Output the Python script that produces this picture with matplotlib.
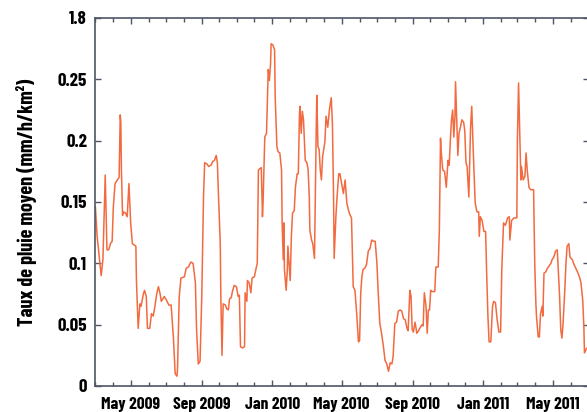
import datetime as dt
import matplotlib
matplotlib.use("Agg")
import matplotlib.pyplot as plt
import matplotlib.dates as mdates

# daily mean rain rate (days since start_date)
start_date = dt.date(2009, 3, 1)
days = [0, 3, 10, 13, 17, 20, 23, 26, 29, 31, 34, 38, 41, 43, 44, 45, 47, 48, 52, 55,
        58, 61, 64, 67, 70, 71, 74, 77, 79, 83, 85, 88, 90, 94, 97, 100, 103, 106, 109, 112,
        114, 119, 123, 127, 131, 135, 138, 141, 142, 145, 148, 154, 157, 161, 165, 169, 173, 175, 178, 181,
        184, 187, 189, 193, 196, 200, 203, 206, 209, 211, 213, 216, 217, 219, 221, 225, 227, 230, 232, 235,
        237, 240, 244, 247, 249, 251, 255, 258, 259, 262, 263, 266, 269, 271, 275, 278, 280, 282, 284, 287,
        289, 290, 293, 296, 299, 301, 303, 304, 307, 310, 311, 314, 316, 319, 322, 323, 325, 326, 327, 330,
        332, 333, 335, 337, 339, 341, 344, 346, 349, 351, 353, 354, 356, 358, 360, 363, 366, 368, 370, 371,
        374, 376, 379, 382, 383, 385, 387, 389, 391, 393, 397, 399, 402, 405, 408, 410, 412, 413, 416, 418,
        421, 423, 426, 429, 432, 435, 438, 440, 443, 446, 449, 452, 455, 457, 459, 461, 463, 466, 469, 472,
        475, 478, 481, 484, 487, 489, 492, 495, 498, 501, 504, 507, 510, 513, 515, 518, 521, 524, 527, 530,
        533, 536, 539, 541, 544, 546, 548, 550, 553, 556, 559, 561, 565, 567, 569, 572, 574, 576, 578, 580,
        582, 587, 589, 593, 595, 597, 598, 601, 604, 607, 610, 612, 614, 616, 618, 620, 622, 623, 625, 627,
        629, 631, 634, 637, 639, 641, 643, 646, 649, 651, 654, 657, 660, 663, 664, 666, 669, 672, 675, 677,
        679, 681, 684, 687, 689, 692, 695, 698, 701, 703, 706, 709, 710, 713, 716, 717, 720, 724, 729, 730,
        732, 734, 736, 737, 740, 743, 745, 747, 750, 753, 758, 760, 762, 763, 766, 768, 770, 773, 774, 776,
        779, 782, 788, 790, 793, 796, 799, 801, 803, 805, 807, 809, 812, 814, 816, 819, 821, 825, 828, 834,
        838, 840, 843, 845, 846, 849, 852]
rain = [0.146, 0.122, 0.090, 0.103, 0.172, 0.111, 0.111, 0.116, 0.118, 0.146, 0.165, 0.168, 0.170, 0.221, 0.215, 0.176, 0.139, 0.142, 0.141, 0.138,
        0.165, 0.133, 0.116, 0.115, 0.114, 0.086, 0.047, 0.067, 0.065, 0.075, 0.078, 0.073, 0.047, 0.047, 0.059, 0.057, 0.065, 0.075, 0.081, 0.075,
        0.069, 0.073, 0.070, 0.066, 0.066, 0.039, 0.010, 0.008, 0.013, 0.073, 0.088, 0.089, 0.096, 0.097, 0.101, 0.100, 0.084, 0.046, 0.018, 0.020,
        0.073, 0.154, 0.182, 0.181, 0.179, 0.180, 0.183, 0.184, 0.188, 0.182, 0.154, 0.116, 0.073, 0.025, 0.067, 0.066, 0.063, 0.062, 0.071, 0.072,
        0.077, 0.082, 0.081, 0.073, 0.074, 0.032, 0.031, 0.032, 0.076, 0.069, 0.086, 0.084, 0.076, 0.088, 0.089, 0.096, 0.100, 0.176, 0.177, 0.178,
        0.138, 0.149, 0.203, 0.206, 0.258, 0.249, 0.263, 0.279, 0.278, 0.274, 0.236, 0.195, 0.191, 0.190, 0.176, 0.133, 0.103, 0.133, 0.095, 0.078,
        0.095, 0.114, 0.100, 0.086, 0.122, 0.141, 0.143, 0.162, 0.173, 0.173, 0.222, 0.228, 0.206, 0.224, 0.217, 0.184, 0.182, 0.176, 0.154, 0.127,
        0.119, 0.116, 0.104, 0.209, 0.237, 0.195, 0.193, 0.176, 0.168, 0.187, 0.199, 0.220, 0.211, 0.226, 0.235, 0.214, 0.154, 0.104, 0.138, 0.154,
        0.173, 0.173, 0.165, 0.157, 0.168, 0.149, 0.143, 0.140, 0.137, 0.081, 0.078, 0.059, 0.036, 0.037, 0.076, 0.089, 0.095, 0.096, 0.099, 0.110,
        0.112, 0.119, 0.118, 0.118, 0.100, 0.078, 0.051, 0.043, 0.033, 0.021, 0.018, 0.012, 0.019, 0.018, 0.024, 0.051, 0.052, 0.061, 0.062, 0.061,
        0.055, 0.054, 0.047, 0.045, 0.078, 0.073, 0.046, 0.044, 0.052, 0.043, 0.045, 0.047, 0.050, 0.049, 0.076, 0.065, 0.043, 0.062, 0.062, 0.078,
        0.077, 0.077, 0.097, 0.097, 0.127, 0.202, 0.192, 0.176, 0.175, 0.162, 0.184, 0.180, 0.200, 0.217, 0.225, 0.203, 0.220, 0.248, 0.218, 0.188,
        0.206, 0.210, 0.217, 0.215, 0.208, 0.182, 0.179, 0.154, 0.211, 0.228, 0.187, 0.149, 0.142, 0.142, 0.122, 0.138, 0.135, 0.126, 0.126, 0.089,
        0.057, 0.036, 0.036, 0.065, 0.069, 0.068, 0.054, 0.044, 0.044, 0.095, 0.133, 0.131, 0.132, 0.137, 0.138, 0.119, 0.135, 0.137, 0.137, 0.201,
        0.247, 0.209, 0.168, 0.179, 0.168, 0.171, 0.190, 0.176, 0.162, 0.160, 0.160, 0.100, 0.067, 0.057, 0.040, 0.040, 0.059, 0.065, 0.057, 0.092,
        0.093, 0.096, 0.100, 0.103, 0.105, 0.110, 0.111, 0.092, 0.073, 0.046, 0.039, 0.051, 0.078, 0.100, 0.114, 0.116, 0.105, 0.103, 0.099, 0.093,
        0.088, 0.084, 0.070, 0.048, 0.027, 0.030, 0.032]

ytick_vals = [0, 0.05, 0.1, 0.15, 0.2, 0.25, 0.3]
ytick_labels = ["0", "0.05", "0.1", "0.15", "0.2", "0.25", "1.8"]
ylabel = "Taux de pluie moyen (mm/h/km²)"

plt.rcParams["font.family"] = ["Barlow Condensed", "DejaVu Sans"]
plt.rcParams["font.weight"] = "bold"

dates = [start_date + dt.timedelta(days=d) for d in days]

W, H = 587, 412
fig = plt.figure(figsize=(W / 100, H / 100), dpi=100)
# axes runs slightly past the right edge, like the cropped original
left, right, bottom, top = 95.4, 588.5, 386, 18
ax = fig.add_axes([left / W, (H - bottom) / H, (right - left) / W, (bottom - top) / H])

ax.plot(dates, rain, color="#f26a40", lw=1.1)

ax.set_xlim(start_date, start_date + dt.timedelta(days=853))
ax.set_ylim(0, 0.3)
ax.set_yticks(ytick_vals)
ax.set_yticklabels(ytick_labels)

ax.xaxis.set_major_locator(mdates.MonthLocator(bymonth=[1, 5, 9]))
ax.xaxis.set_minor_locator(mdates.MonthLocator())
ax.xaxis.set_major_formatter(mdates.DateFormatter("%b %Y"))

spine_col = "#4d5566"
for s in ax.spines.values():
    s.set_color(spine_col)
    s.set_linewidth(1.2)

ax.tick_params(which="both", direction="in", top=True, right=True, color=spine_col, width=1.0)
ax.tick_params(which="major", length=4.5)
ax.tick_params(which="minor", length=3)
ax.tick_params(axis="x", labelsize=12.5, pad=8)
ax.tick_params(axis="y", labelsize=13.5, pad=6)

ax.set_ylabel(ylabel, fontsize=14.5, fontweight="bold", labelpad=15)

fig.savefig("out.png", dpi=100)
